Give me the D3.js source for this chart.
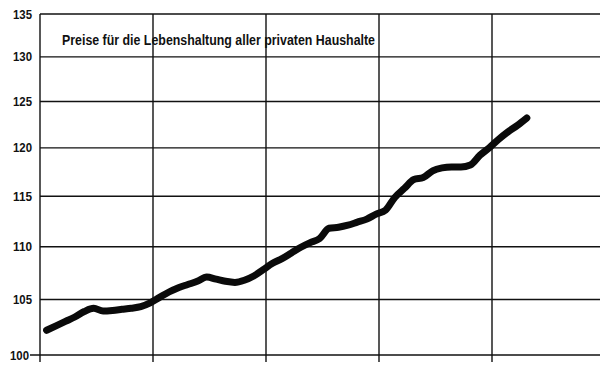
<!DOCTYPE html>
<html>
<head>
<meta charset="utf-8">
<script src="https://cdn.jsdelivr.net/npm/d3@7"></script>
<style>
  html, body { margin: 0; padding: 0; background: #fff; }
  svg { display: block; }
  .lbl { font-family: "Liberation Sans Narrow", "Liberation Sans", Arial, sans-serif; font-weight: bold; fill: #111; }
</style>
</head>
<body>
<svg id="chart" width="602" height="376"></svg>
<script>
// Cost-of-living index, monthly values over slightly more than four years
const title = "Preise für die Lebenshaltung aller privaten Haushalte";
const yTicks = [100, 105, 110, 115, 120, 125, 130, 135];
const yearStarts = [0, 12, 24, 36, 48];
const months = d3.range(52);
const indexValues = [
  102.2, 102.6, 103.0, 103.4, 103.9, 104.2, 103.95, 104.0, 104.1, 104.2, 104.35, 104.7,
  105.2, 105.7, 106.1, 106.4, 106.7, 107.1, 106.9, 106.7, 106.6, 106.8, 107.2, 107.8,
  108.4, 108.85, 109.4, 109.95, 110.4, 110.8, 111.8, 111.9, 112.1, 112.4, 112.7, 113.2,
  113.6, 114.9, 115.8, 116.7, 116.9, 117.6, 117.9, 118.0, 118.0, 118.2, 119.2, 120.0,
  120.9, 121.7, 122.4, 123.2
];

const svg = d3.select("#chart");
const x = d3.scaleLinear().domain([0, 60]).range([40, 605]);
const y = d3.scaleLog().domain([100, 135]).range([355, 14]);

const grid = svg.append("g").attr("stroke", "#111").attr("stroke-width", 1.4).attr("fill", "none");

// horizontal grid lines (the baseline runs a little further left)
grid.selectAll("line.h").data(yTicks).join("line")
  .attr("class", "h")
  .attr("x1", d => d === 100 ? 30 : x(0))
  .attr("x2", 600)
  .attr("y1", d => y(d)).attr("y2", d => y(d));

// vertical grid lines at each year start, poking below the baseline
grid.selectAll("line.v").data(yearStarts).join("line")
  .attr("class", "v")
  .attr("x1", d => x(d)).attr("x2", d => x(d))
  .attr("y1", y(135)).attr("y2", y(100) + 7);

// y tick labels, condensed
svg.append("g").selectAll("text").data(yTicks).join("text")
  .attr("class", "lbl")
  .attr("x", d => d === 100 ? 29 : 32)
  .attr("y", d => y(d))
  .attr("dy", "0.36em")
  .attr("text-anchor", "end")
  .attr("font-size", 12.5)
  .attr("textLength", 19)
  .attr("lengthAdjust", "spacingAndGlyphs")
  .text(d => d);

// title inside the plot, condensed
svg.append("text")
  .attr("class", "lbl")
  .attr("x", 62).attr("y", 45)
  .attr("font-size", 14)
  .attr("textLength", 313)
  .attr("lengthAdjust", "spacingAndGlyphs")
  .text(title);

// index line
const line = d3.line()
  .x((d, i) => x(months[i] + 0.7))
  .y(d => y(d))
  .curve(d3.curveMonotoneX);

svg.append("path")
  .datum(indexValues)
  .attr("d", line)
  .attr("fill", "none")
  .attr("stroke", "#0a0a0a")
  .attr("stroke-width", 7)
  .attr("stroke-linecap", "round")
  .attr("stroke-linejoin", "round");
</script>
</body>
</html>
